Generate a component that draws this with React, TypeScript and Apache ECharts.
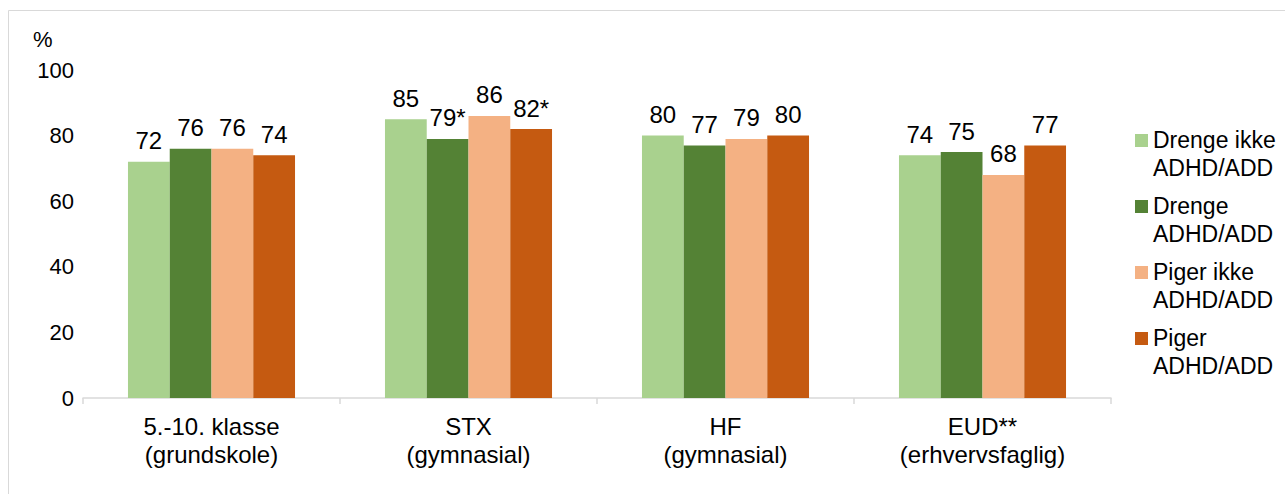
import React, { useEffect, useRef } from "react";
import * as echarts from "echarts";

const categories = ["5.-10. klasse\n(grundskole)", "STX\n(gymnasial)", "HF\n(gymnasial)", "EUD**\n(erhvervsfaglig)"];
const seriesNames = ["Drenge ikke\nADHD/ADD", "Drenge\nADHD/ADD", "Piger ikke\nADHD/ADD", "Piger\nADHD/ADD"];
const drengeIkke = [72, 85, 80, 74];
const drengeAdhd = [76, 79, 77, 75];
const pigerIkke = [76, 86, 79, 68];
const pigerAdhd = [74, 82, 80, 77];
// Significance markers appended to the value labels
const drengeAdhdMarks = ["", "*", "", ""];
const pigerAdhdMarks = ["", "*", "", ""];
const emptyMarks = ["", "", "", ""];
const colors = ["#A9D18E", "#548235", "#F4B183", "#C55A11"];
const yTicks = { min: 0, max: 100, interval: 20 };

const FONT = "'Liberation Sans', Arial, sans-serif";

export default function App() {
  const ref = useRef<HTMLDivElement>(null);

  useEffect(() => {
    if (!ref.current) return;
    const chart = echarts.init(ref.current, null, { renderer: "svg" });
    const values = [drengeIkke, drengeAdhd, pigerIkke, pigerAdhd];
    const marks = [emptyMarks, drengeAdhdMarks, emptyMarks, pigerAdhdMarks];

    chart.setOption({
      animation: false,
      backgroundColor: "#ffffff",
      textStyle: { fontFamily: FONT },
      graphic: [
        {
          type: "rect",
          shape: { x: 8.5, y: 10.5, width: 1300, height: 500 },
          style: { fill: "none", stroke: "#d9d9d9", lineWidth: 1 },
          silent: true,
        },
        {
          type: "text",
          left: 33,
          top: 28,
          style: { text: "%", font: `22px ${FONT}`, fill: "#000" },
        },
      ],
      grid: { left: 83, right: 174, top: 70, bottom: 96, containLabel: false },
      legend: {
        orient: "vertical",
        left: 1135,
        top: 126,
        padding: 0,
        itemGap: 10,
        itemWidth: 13,
        itemHeight: 40,
        // square at the top of a taller box, so it sits beside the first text line
        icon: "path://M0,0h13v13h-13z M0,40h0.001v0.001h-0.001z",
        textStyle: { fontSize: 23, lineHeight: 28, color: "#000", fontFamily: FONT },
        data: seriesNames,
      },
      xAxis: {
        type: "category",
        data: categories,
        boundaryGap: true,
        axisLine: { lineStyle: { color: "#d9d9d9", width: 1.5 } },
        axisTick: { show: true, interval: 0, length: 6, lineStyle: { color: "#d9d9d9", width: 1.5 } },
        axisLabel: { fontSize: 24, lineHeight: 28, color: "#000", margin: 14, interval: 0, fontFamily: FONT },
      },
      yAxis: {
        type: "value",
        min: yTicks.min,
        max: yTicks.max,
        interval: yTicks.interval,
        axisLine: { show: false },
        axisTick: { show: false },
        splitLine: { show: false },
        axisLabel: { fontSize: 22, color: "#000", margin: 9, fontFamily: FONT },
      },
      series: values.map((vals, i) => ({
        name: seriesNames[i],
        type: "bar",
        data: vals,
        barGap: "0%",
        barCategoryGap: "35%",
        itemStyle: { color: colors[i] },
        label: {
          show: true,
          position: "top",
          distance: 9,
          fontSize: 24,
          color: "#000",
          fontFamily: FONT,
          formatter: (p: any) => `${p.value}${marks[i][p.dataIndex]}`,
        },
      })),
    });

    return () => chart.dispose();
  }, []);

  return (
    <div
      ref={ref}
      style={{ position: "absolute", left: 0, top: 0, width: 1285, height: 494 }}
    />
  );
}
